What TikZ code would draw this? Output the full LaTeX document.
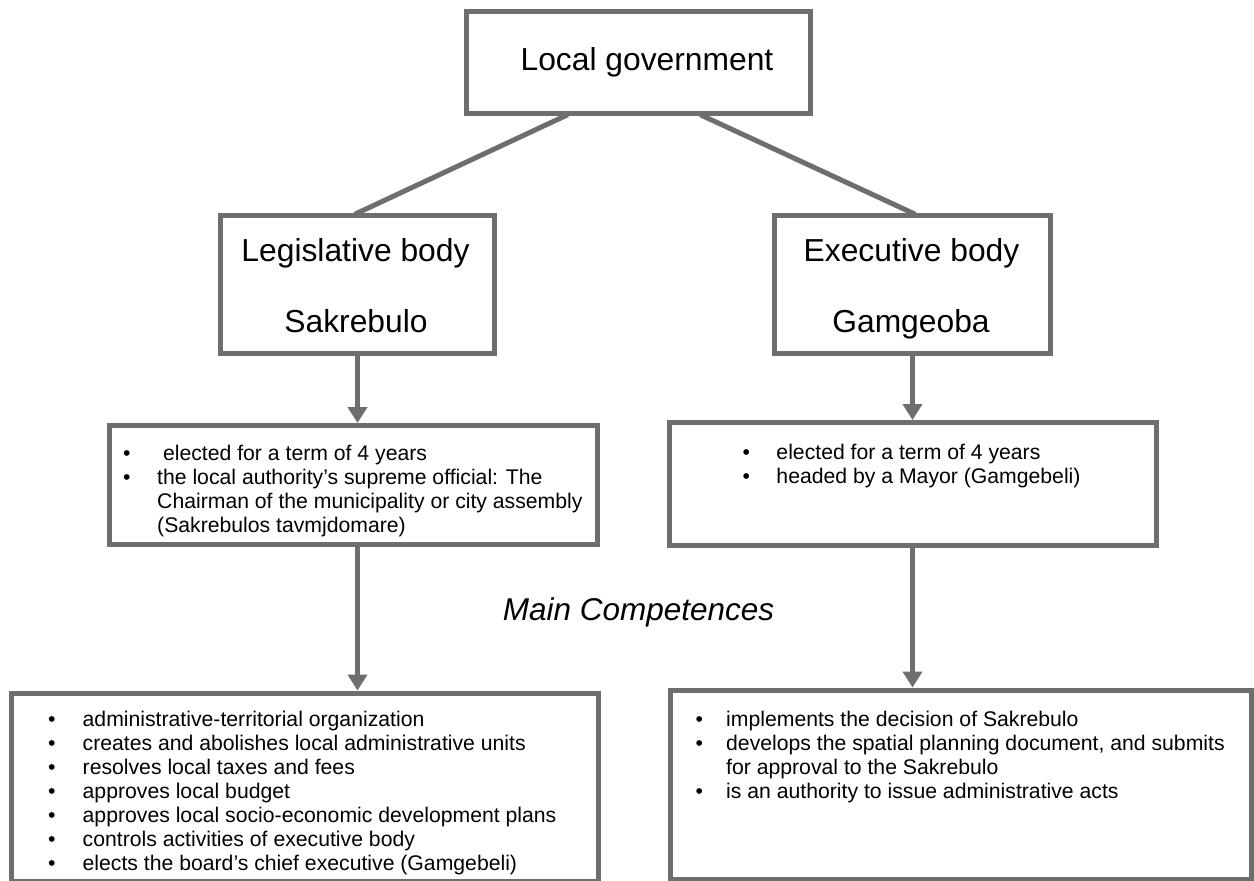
\documentclass[tikz,border=0pt]{standalone}
\usepackage{fontspec}
\setmainfont{Liberation Sans}
\usetikzlibrary{arrows.meta,calc}
\definecolor{bord}{RGB}{110,110,110}
\newcommand\bul[1]{\makebox[#1][l]{•}}
\newcommand\ind[1]{\hspace*{#1}}
\tikzset{
  box/.style={draw=bord, line width=5pt, fill=white, rectangle, inner sep=0pt},
  head/.style={anchor=base, inner sep=0pt, font=\fontsize{31.8}{36}\selectfont},
  list/.style={anchor=base west, inner sep=0pt, font=\fontsize{21.2}{24}\selectfont},
  conn/.style={draw=bord, line width=5pt},
  arr/.style={draw=bord, line width=5pt, -{Triangle[width=19pt,length=16pt]}},
}
\begin{document}
\begin{tikzpicture}[x=1pt,y=-1pt]
\clip (0,0) rectangle (1254,881);
\fill[white] (0,0) rectangle (1254,881);
% boxes
\node[box, minimum width=344pt, minimum height=102pt] (top) at (638.5,62.5) {};
\node[box, minimum width=274pt, minimum height=138pt] (lbody) at (357.5,284.5) {};
\node[box, minimum width=276pt, minimum height=138pt] (rbody) at (912.5,284.5) {};
\node[box, minimum width=488pt, minimum height=119pt] (lmid) at (353.5,485) {};
\node[box, minimum width=487pt, minimum height=123pt] (rmid) at (913,484) {};
\node[box, minimum width=587pt, minimum height=188pt] (lbot) at (304.5,787) {};
\node[box, minimum width=581.5pt, minimum height=189.5pt] (rbot) at (960.75,784.75) {};
% connectors
\draw[conn, shorten <=-3pt, shorten >=-3pt] ($(top.south)+(-73.5,0)$) -- (lbody.north);
\draw[conn, shorten <=-3pt, shorten >=-3pt] ($(top.south)+(64.5,0)$) -- (rbody.north);
\draw[arr] (lbody.south) -- (lbody.south |- lmid.north);
\draw[arr] (rbody.south) -- (rbody.south |- rmid.north);
\draw[arr] (lbody.south |- lmid.south) -- (lbody.south |- lbot.north);
\draw[arr] (rbody.south |- rmid.south) -- (rbody.south |- rbot.north);
% headings
\node[head] (toptext) at (647,70.7) {Local government};
\node[head] (ltext1) at (355.5,261) {Legislative body};
\node[head] (ltext2) at (356,332) {Sakrebulo};
\node[head] (rtext1) at (911.5,261) {Executive body};
\node[head] (rtext2) at (911,332) {Gamgeoba};
\node[head, font=\fontsize{31.5}{36}\selectfont\itshape] (mc) at (638.5,620) {Main Competences};
% lists
\node[list] (lmidtext) at (122.8,460) {\begin{minipage}[t]{470pt}
\bul{34.2pt}\ elected for a term of 4 years\par
\bul{34.2pt}the local authority’s supreme official: The\par
\ind{34.2pt}Chairman of the municipality or city assembly\par
\ind{34.2pt}(Sakrebulos tavmjdomare)
\end{minipage}};
\node[list] (rmidtext) at (742.3,459) {\begin{minipage}[t]{400pt}
\bul{34pt}elected for a term of 4 years\par
\bul{34pt}headed by a Mayor (Gamgebeli)
\end{minipage}};
\node[list] (lbottext) at (48,726.7) {\begin{minipage}[t]{540pt}
\bul{34.5pt}administrative-territorial organization\par
\bul{34.5pt}creates and abolishes local administrative units\par
\bul{34.5pt}resolves local taxes and fees\par
\bul{34.5pt}approves local budget\par
\bul{34.5pt}approves local socio-economic development plans\par
\bul{34.5pt}controls activities of executive body\par
\bul{34.5pt}elects the board’s chief executive (Gamgebeli)
\end{minipage}};
\node[list] (rbottext) at (695.3,726) {\begin{minipage}[t]{540pt}
\bul{30.7pt}implements the decision of Sakrebulo\par
\bul{30.7pt}develops the spatial planning document, and submits\par
\ind{30.7pt}for approval to the Sakrebulo\par
\bul{30.7pt}is an authority to issue administrative acts
\end{minipage}};
\end{tikzpicture}
\end{document}
